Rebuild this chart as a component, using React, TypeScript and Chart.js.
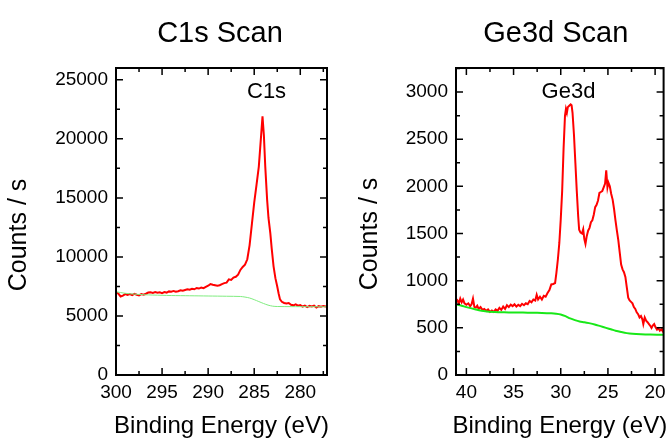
import React, { useEffect, useRef } from "react";
import { Chart, registerables } from "chart.js";

Chart.register(...registerables);

const FONT = "'Liberation Sans', Arial, Helvetica, sans-serif";

// ---------------- C1s scan ----------------
const c1sEnergy = [
  300, 299.75, 299.5, 299.25, 299, 298.75, 298.5, 298.25, 298, 297.75, 297.5, 297.25, 297, 296.75, 296.5, 296.25,
  296, 295.75, 295.5, 295.25, 295, 294.75, 294.5, 294.25, 294, 293.75, 293.5, 293.25, 293, 292.75, 292.5, 292.25,
  292, 291.75, 291.5, 291.25, 291, 290.75, 290.5, 290.25, 290, 289.75, 289.5, 289.25, 289, 288.75, 288.5, 288.25,
  288, 287.75, 287.5, 287.25, 287, 286.75, 286.5, 286.25, 286, 285.75, 285.5, 285.25, 285, 284.75, 284.5, 284.25,
  284.1, 283.95, 283.8, 283.6, 283.45, 283.25, 283.1, 282.9, 282.7, 282.5, 282.35, 282.2,
  282, 281.75, 281.5, 281.25, 281, 280.75, 280.5, 280.25, 280, 279.75, 279.5, 279.25, 279, 278.75, 278.5, 278.25,
  278, 277.75, 277.5, 277.25, 277,
];
const c1sCounts = [
  7000, 6900, 6650, 6720, 6850, 6780, 6850, 6760, 6870, 6800, 6740, 6850, 6800, 6880, 6980, 7000,
  6950, 7020, 6960, 7000, 6930, 7020, 6980, 7080, 7050, 7120, 7060, 7100, 7180, 7130, 7200, 7260,
  7220, 7300, 7260, 7370, 7320, 7400, 7350, 7460, 7560, 7700, 7640, 7600, 7560, 7600, 7700, 7780,
  7820, 8100, 8050, 8250, 8320, 8500, 8900, 9150, 9350, 9800, 11000, 12800, 14600, 16100, 17650, 20300,
  21900, 20300, 17650, 14850, 13300, 12000, 10700, 9200, 8200, 7500, 6900, 6400,
  6200, 6100, 6050, 6100, 5950, 5900, 5980, 5870, 5920, 5800, 5880, 5750, 5850, 5800, 5870, 5720,
  5830, 5780, 5850, 5800, 5830,
];
const c1sBgEnergy = [300, 299, 298, 297, 296, 295, 294, 292, 290, 288, 286.5, 286, 285.5, 285, 284.5, 284, 283.5, 283, 282.5, 281, 279, 277];
const c1sBgCounts = [7050, 6920, 6850, 6800, 6770, 6750, 6730, 6710, 6690, 6670, 6650, 6600, 6520, 6380, 6220, 6060, 5920, 5830, 5800, 5790, 5785, 5780];
const c1sXTicks = [300, 295, 290, 285, 280];
const c1sYTicks = [0, 5000, 10000, 15000, 20000, 25000];

// ---------------- Ge3d scan ----------------
const geEnergy = [
  41.1, 40.95, 40.8, 40.65, 40.5, 40.35, 40.2, 40.0, 39.8, 39.6, 39.45, 39.3, 39.15, 39.0, 38.85, 38.7,
  38.5, 38.3, 38.1, 37.9, 37.7, 37.5, 37.3, 37.1, 36.9, 36.7, 36.5, 36.3, 36.1, 35.9, 35.7, 35.5,
  35.3, 35.1, 34.9, 34.7, 34.5, 34.3, 34.1, 33.9, 33.7, 33.5, 33.3, 33.1, 32.9, 32.7, 32.55, 32.4,
  32.2, 32.0, 31.8, 31.6, 31.4, 31.2, 31.0, 30.8, 30.6, 30.46, 30.3, 30.15, 30.0, 29.85, 29.7, 29.55,
  29.45, 29.35, 29.25, 29.1, 28.95, 28.85, 28.75, 28.6, 28.45, 28.3, 28.15, 28.05, 27.9, 27.75, 27.62, 27.5,
  27.38, 27.25, 27.1, 26.95, 26.8, 26.65, 26.5, 26.35, 26.2, 26.05, 25.9, 25.75, 25.6, 25.45, 25.3, 25.18,
  25.05, 24.95, 24.8, 24.65, 24.5, 24.35, 24.2, 24.05, 23.9, 23.75, 23.6, 23.45, 23.3, 23.15, 23.0, 22.85,
  22.7, 22.55, 22.4, 22.25, 22.1, 21.95, 21.8, 21.65, 21.5, 21.35, 21.25, 21.1, 20.95, 20.8, 20.65, 20.5,
  20.38, 20.25, 20.1, 19.95, 19.8, 19.65, 19.5, 19.35, 19.2, 19.1,
];
const geCounts = [
  770, 790, 760, 810, 770, 800, 760, 745, 760, 730, 750, 810, 720, 715, 735, 700,
  720, 690, 700, 680, 695, 670, 685, 670, 695, 680, 712, 690, 725, 700, 740, 720,
  745, 730, 750, 725, 745, 730, 755, 740, 760, 750, 785, 770, 800, 790, 850, 800,
  830, 800, 840, 830, 870, 900, 960, 965, 975, 1083, 1230, 1400, 1650, 1950, 2400, 2750,
  2820, 2780, 2840, 2855, 2870, 2860, 2780, 2550, 2250, 1950, 1680, 1540, 1510, 1500, 1545, 1440,
  1390, 1470, 1530, 1560, 1620, 1640, 1700, 1780, 1805, 1850, 1930, 1940, 1950, 1990, 2030, 2170,
  1990, 2040, 2000, 1920, 1860, 1760, 1640, 1530, 1430, 1300, 1170, 1120, 1090, 1040, 930, 820,
  790, 775, 760, 720, 700, 665, 645, 610, 625, 590, 540, 610, 575, 560, 540, 520,
  500, 525, 540, 505, 480, 495, 470, 485, 465, 505,
];
const geBgEnergy = [41.1, 40.5, 40, 39, 38, 37, 36, 35, 34, 33, 32, 31, 30.5, 30, 29.5, 29, 28.5, 28, 27.5, 27, 26.4, 25.8, 25.2, 24.6, 24.2, 23.6, 23, 22.4, 21.5, 20.5, 19.1];
const geBgCounts = [750, 735, 720, 695, 675, 667, 664, 663, 662, 660, 658, 654, 650, 642, 624, 600, 582, 568, 560, 550, 536, 518, 500, 482, 470, 456, 444, 437, 432, 429, 427];
const geXTicks = [40, 35, 30, 25, 20];
const geYTicks = [0, 500, 1000, 1500, 2000, 2500, 3000];

type Panel = {
  title: string;
  label: string;
  labelE: number;
  labelC: number;
  energy: number[];
  counts: number[];
  bgE: number[];
  bgC: number[];
  xMin: number;
  xMax: number;
  yMax: number;
  xTicks: number[];
  yTicks: number[];
  yAxisWidth: number;
  padRight: number;
  titleDX: number;
  yTitleX: number;
  yTitleY: number;
  bgColor: string;
  bgWidth: number;
};

const panels: Panel[] = [
  {
    title: "C1s Scan", label: "C1s", labelE: 283.66, labelC: 24000,
    energy: c1sEnergy, counts: c1sCounts, bgE: c1sBgEnergy, bgC: c1sBgCounts,
    xMin: 277.1, xMax: 300, yMax: 26000, xTicks: c1sXTicks, yTicks: c1sYTicks,
    yAxisWidth: 116, padRight: 9, titleDX: -1.5, yTitleX: 19, yTitleY: 235,
    bgColor: "#7fec7f", bgWidth: 1,
  },
  {
    title: "Ge3d Scan", label: "Ge3d", labelE: 29.18, labelC: 3000,
    energy: geEnergy, counts: geCounts, bgE: geBgEnergy, bgC: geBgCounts,
    xMin: 19.1, xMax: 41.1, yMax: 3255, xTicks: geXTicks, yTicks: geYTicks,
    yAxisWidth: 120, padRight: 8, titleDX: -4, yTitleX: 34, yTitleY: 234,
    bgColor: "#18e818", bgWidth: 2,
  },
];

const decorPlugin = {
  id: "decor",
  afterDatasetsDraw(chart: any, _args: any, opts: any) {
    const p: Panel = opts.panel;
    if (!p) return;
    const { ctx, chartArea: a, scales } = chart;
    const xs = scales.x;
    const ys = scales.y;
    ctx.save();
    ctx.strokeStyle = "#000";
    ctx.lineWidth = 2;
    ctx.strokeRect(a.left, a.top, a.right - a.left, a.bottom - a.top);
    ctx.lineWidth = 1.5;
    const ticksFor = (majors: number[], min: number, max: number) => {
      const step = Math.abs(majors[1] - majors[0]);
      const out: { v: number; major: boolean }[] = [];
      const seen = new Set<number>();
      majors.forEach((v) => {
        out.push({ v, major: true });
        seen.add(v);
      });
      majors.forEach((v) => {
        [v - step / 2, v + step / 2].forEach((m) => {
          if (m > min && m < max && !seen.has(m)) {
            seen.add(m);
            out.push({ v: m, major: false });
          }
        });
      });
      return out;
    };
    ctx.beginPath();
    ticksFor(p.xTicks, p.xMin, p.xMax).forEach(({ v, major }) => {
      const px = xs.getPixelForValue(v);
      const len = major ? 7 : 4;
      ctx.moveTo(px, a.bottom);
      ctx.lineTo(px, a.bottom - len);
      ctx.moveTo(px, a.top);
      ctx.lineTo(px, a.top + len);
    });
    ticksFor(p.yTicks, 0, p.yMax).forEach(({ v, major }) => {
      const py = ys.getPixelForValue(v);
      const len = major ? 7 : 4;
      ctx.moveTo(a.left, py);
      ctx.lineTo(a.left + len, py);
      ctx.moveTo(a.right, py);
      ctx.lineTo(a.right - len, py);
    });
    ctx.stroke();

    ctx.fillStyle = "#000";
    ctx.textAlign = "center";
    ctx.textBaseline = "middle";
    const cx = (a.left + a.right) / 2;
    ctx.font = `29px ${FONT}`;
    ctx.fillText(p.title, cx + p.titleDX, 34);
    ctx.font = `22px ${FONT}`;
    ctx.fillText(p.label, xs.getPixelForValue(p.labelE), ys.getPixelForValue(p.labelC));
    ctx.font = `24px ${FONT}`;
    ctx.fillText("Binding Energy (eV)", cx, 426);
    ctx.save();
    ctx.translate(p.yTitleX, p.yTitleY);
    ctx.rotate(-Math.PI / 2);
    ctx.font = `25px ${FONT}`;
    ctx.fillText("Counts / s", 0, 0);
    ctx.restore();
    ctx.restore();
  },
};

function SpectrumPanel({ p, left }: { p: Panel; left: number }) {
  const ref = useRef<HTMLCanvasElement | null>(null);
  useEffect(() => {
    if (!ref.current) return;
    const spectrum = p.energy.map((e, i) => ({ x: e, y: p.counts[i] }));
    const bg = p.bgE.map((e, i) => ({ x: e, y: p.bgC[i] }));
    const chart = new Chart(ref.current, {
      type: "line",
      data: {
        datasets: [
          {
            data: bg,
            borderColor: p.bgColor,
            borderWidth: p.bgWidth,
            pointRadius: 0,
            tension: 0.3,
            order: 0,
          },
          {
            data: spectrum,
            borderColor: "#ff0000",
            borderWidth: 2,
            pointRadius: 0,
            tension: 0,
            order: 1,
          },
        ],
      },
      options: {
        responsive: false,
        animation: false,
        events: [],
        layout: { padding: { top: 68, right: p.padRight, left: 0, bottom: 0 } },
        plugins: {
          legend: { display: false },
          title: { display: false },
          tooltip: { enabled: false },
          decor: { panel: p },
        } as any,
        scales: {
          x: {
            type: "linear",
            reverse: true,
            min: p.xMin,
            max: p.xMax,
            grid: { display: false, drawTicks: false },
            border: { display: false },
            afterBuildTicks: (s: any) => {
              s.ticks = p.xTicks.map((v) => ({ value: v }));
            },
            afterFit: (s: any) => {
              s.height = 65;
            },
            ticks: {
              color: "#000",
              padding: 6,
              maxRotation: 0,
              autoSkip: false,
              font: { family: FONT, size: 19 },
              callback: (v: any) => String(v),
            },
          },
          y: {
            type: "linear",
            min: 0,
            max: p.yMax,
            grid: { display: false, drawTicks: false },
            border: { display: false },
            afterBuildTicks: (s: any) => {
              s.ticks = p.yTicks.map((v) => ({ value: v }));
            },
            afterFit: (s: any) => {
              s.width = p.yAxisWidth;
            },
            ticks: {
              color: "#000",
              padding: 8,
              autoSkip: false,
              font: { family: FONT, size: 19 },
              callback: (v: any) => String(v),
            },
          },
        },
      },
      plugins: [decorPlugin],
    } as any);
    return () => chart.destroy();
  }, [p]);
  return (
    <canvas
      ref={ref}
      width={336}
      height={440}
      style={{ position: "absolute", left, top: 0, width: 336, height: 440, display: "block" }}
    />
  );
}

export default function App() {
  return (
    <div style={{ position: "absolute", left: 0, top: 0, width: 672, height: 440, background: "#fff", overflow: "hidden" }}>
      <SpectrumPanel p={panels[0]} left={0} />
      <SpectrumPanel p={panels[1]} left={336} />
    </div>
  );
}
